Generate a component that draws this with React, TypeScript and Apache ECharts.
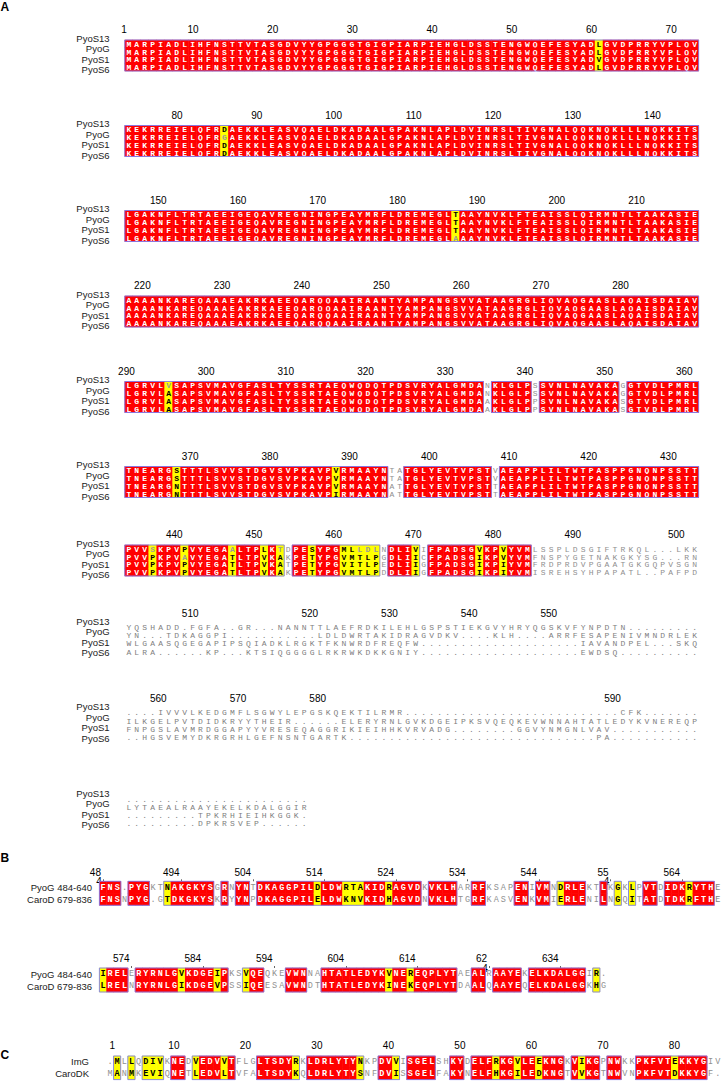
import React, { useEffect, useRef } from "react";
import * as echarts from "echarts";

// ---------------- data ----------------
const A_NAMES = ["PyoS13", "PyoG", "PyoS1", "PyoS6"];

const A_BLOCK_1 = [
  "MARPIADLIHFNSTTVTASGDVYYGPGGGTGIGPIARPIEHGLDSSTENGWQEFESYADLGVDPRRYVPLQV",
  "MARPIADLIHFNSTTVTASGDVYYGPGGGTGIGPIARPIEHGLDSSTENGWQEFESYADLGVDPRRYVPLQV",
  "MARPIADLIHFNSTTVTASGDVYYGPGGGTGIGPIARPIEHGLDSSTENGWQEFESYADVGVDPRRYVPLQV",
  "MARPIADLIHFNSTTVTASGDVYYGPGGGTGIGPIARPIEHGLDSSTENGWQEFESYADLGVDPRRYVPLQV",
];
const A_BLOCK_2 = [
  "KEKRREIELQFRDAEKKLEASVQAELDKADAALGPAKNLAPLDVINRSLTIVGNALQQKNQKLLLNQKKITS",
  "KEKRREIELQFRGAEKKLEASVQAELDKADAALGPAKNLAPLDVINRSLTIVGNALQQKNQKLLLNQKKITS",
  "KEKRREIELQFRDAEKKLEASVQAELDKADAALGPAKNLAPLDVINRSLTIVGNALQQKNQKLLLNQKKITS",
  "KEKRREIELQFRDAEKKLEASVQAELDKADAALGPAKNLAPLDVINRSLTIVGNALQQKNQKLLLNQKKITS",
];
const A_BLOCK_3 = [
  "LGAKNFLTRTAEEIGEQAVREGNINGPEAYMRFLDREMEGLTAAYNVKLFTEAISSLQIRMNTLTAAKASIE",
  "LGAKNFLTRTAEEIGEQAVREGNINGPEAYMRFLDREMEGLTAAYNVKLFTEAISSLQIRMNTLTAAKASIE",
  "LGAKNFLTRTAEEIGEQAVREGNINGPEAYMRFLDREMEGLTAAYNVKLFTEAISSLQIRMNTLTAAKASIE",
  "LGAKNFLTRTAEEIGEQAVREGNINGPEAYMRFLDREMEGLAAAYNVKLFTEAISSLQIRMNTLTAAKASIE",
];
const A_BLOCK_4 = [
  "AAAANKAREQAAAEAKRKAEEQARQQAAIRAANTYAMPANGSVVATAAGRGLIQVAQGAASLAQAISDAIAV",
  "AAAANKAREQAAAEAKRKAEEQARQQAAIRAANTYAMPANGSVVATAAGRGLIQVAQGAASLAQAISDAIAV",
  "AAAANKAREQAAAEAKRKAEEQARQQAAIRAANTYAMPANGSVVATAAGRGLIQVAQGAASLAQAISDAIAV",
  "AAAANKAREQAAAEAKRKAEEQARQQAAIRAANTYAMPANGSVVATAAGRGLIQVAQGAASLAQAISDAIAV",
];
const A_BLOCK_5 = [
  "LGRVLVSAPSVMAVGFASLTYSSRTAEQWQDQTPDSVRYALGMDANKLGLPSSVNLNAVAKAGGTVDLPMRL",
  "LGRVLASAPSVMAVGFASLTYSSRTAEQWQDQTPDSVRYALGMDANKLGLPSSVNLNAVAKAGGTVDLPMRL",
  "LGRVLASAPSVMAVGFASLTYSSRTAEQWQDQTPDSVRYALGMDAAKLGLPPSVNLNAVAKASGTVDLPMRL",
  "LGRVLASAPSVMAVGFASLTYSSRTAEQWQDQTPDSVRYALGMDAAKLGLPPSVNLNAVAKASGTVDLPMRL",
];
const A_BLOCK_6 = [
  "TNEARGSTTTLSVVSTDGVSVPKAVPVRMAAYNTATGLYEVTVPSTVAEAPPLILTWTPASPPGNQNPSSTT",
  "TNEARGSTTTLSVVSTDGVSVPKAVPVRMAAYNTATGLYEVTVPSTVAEAPPLILTWTPASPPGNQNPSSTT",
  "TNEARGNTTTLSVVSTDGVSVPKAVPVRMAAYNATTGLYEVTVPSTTAEAPPLILTWTPASPPGNQNPSSTT",
  "TNEARGNTTTLSVVSTDGVSVPKAVPIRMAAYNATTGLYEVTVPSTTAEAPPLILTWTPASPPGNQNPSSTT",
];
const A_BLOCK_7 = [
  "PVVSKPVPVYEGAALTPLKTDPESYPGMLLDLNDLIVIFPADSGVKPVYVMLSSPLDSGIFTRKQL...LKK",
  "PVVPKPVAVYEGATLTPVKAKPETYPGVMTLPGDLIICFPADSGIKPVYVMFNSPYGETNAKGKYSG...RN",
  "PVVPKPVPVYEGATLTPVKATPETYPGVITLPEDLIIGFPADSGIKPIYVMFRDPRDVPGAATGKGQPVSGN",
  "PVVPKPVPVYEGATLTPVKAKPETYPGVMTLPDDLIIGFPADSGIKPIYVMISREHSYHPAPATL..PAFPD",
];
const A_BLOCK_8 = [
  "YQSHADD.FGFA..GR...NANNTTLAEFRDKILEHLGSPSTIEKGVYHRYQGSKVFYNPDTN.........",
  "YN...TDKAGGPI...........LDLDWRTAKIDRAGVDKV....KLH....ARRFESAPENIVMNDRLEK",
  "WLGAASQGEGAPIPSQIADKLRGKTFKNWRDFREQFW....................IAVANDPEL...SKQ",
  "ALRA......KP...KTSIQGGGGLRKRWKDKKGNIY....................EWDSQ..........",
];
const A_BLOCK_9 = [
  "....IVVVLKEDGMFLSGWYLEPGSKQEKTILRMR...........................CFK.......",
  "ILKGELPVTDIDKRYYTHEIR......ELERYRNLGVKDGEIPKSVQEQKEVWNNAHTATLEDYKVNEREQP",
  "FNPGSLAVMRDGGAPYYVRESEQAGGRIKIEIHHKVRVADG........GGVYNMGNLVAV...........",
  "..HGSVEMYDKRGRHLGEFNSNTGARTK...............................PA...........",
];
const A_BLOCK_10 = [
  ".......................",
  "LYTAEALRAAYEKELKDALGGIR",
  ".........TPKRHIEIHKGGK.",
  ".........DPKRSVEP......",
];
const A_BLOCKS = [A_BLOCK_1, A_BLOCK_2, A_BLOCK_3, A_BLOCK_4, A_BLOCK_5, A_BLOCK_6, A_BLOCK_7, A_BLOCK_8, A_BLOCK_9, A_BLOCK_10];

// column classes (run-length): R identical (red), Y similar (yellow), W unframed, T plain text
const A_MASKS = [
  "59R1Y12R",
  "12R1Y59R",
  "41R1Y30R",
  "72R",
  "5R1Y39R1W5R1W10R1W9R",
  "6R1Y19R1Y6R2W11R1W25R",
  "3R1Y3R1Y5R1Y3R1Y1R1Y1W2R1Y3R5Y1W3R1Y1W6R1Y2R1Y3R21W",
  "72T",
  "72T",
  "23T",
];
const A_TICKS = [
  [1, 10, 20, 30, 40, 50, 60, 70],
  [80, 90, 100, 110, 120, 130, 140],
  [150, 160, 170, 180, 190, 200, 210],
  [220, 230, 240, 250, 260, 270, 280],
  [290, 300, 310, 320, 330, 340, 350, 360],
  [370, 380, 390, 400, 410, 420, 430],
  [440, 450, 460, 470, 480, 490, 500],
  [510, 520, 530, 540, 550],
  [560, 570, 580, 590],
  [],
];

const B_NAMES = ["PyoG 484-640", "CaroD 679-836"];
const B_BLOCK_1 = [
  "FNS.PYGKTNAKGKYSGRNYNTDKAGGPILDLDWRTAKIDRAGVDKVKLHARRFKSAPENIVMNDRLEKTLKGKLPVTDIDKRYTHE",
  "FNSNPYG.GTDKGKYSKRYYNPDKAGGPILELDWKNVKIDHAGVDNVKLHTGRFKASVENKVMIERLENILNGQITATDTDKRFTHE",
];
const B_BLOCK_2 = [
  "IRELERYRNLGVKDGEIPKSVQEQKEVWNNAHTATLEDYKVNEREQPLYTAEALRAAYEKELKDALGGIR.",
  "LRELNRYRNLGIKDGEVPSSIQEESAVWNDTHTATLEDYKINEKEQPLYTDAALQAAYEQELKDALGGKHG",
];
const B_MASKS = [
  "3R1W3R2W1Y6R1W1R1W2R1W8R1Y3R3Y3R1Y4R1W4R2W2R4W2R1W2R1W1Y3R2W1R1W1Y1W1Y1W2R1W3R1Y3R",
  "1Y3R1W6R1Y4R1Y1R2W1Y2R3W3R2W9R1Y2R1Y6R2W2R1W4R1W8R1W1Y1W",
];
const B_TICKS = [
  [484, 494, 504, 514, 524, 534, 544, 554, 564],
  [574, 584, 594, 604, 614, 624, 634],
];
const B_START = 484;
const B_TICK_TEXT: Record<number, string> = { 484: "48", 554: "55", 624: "62" };
const B_STRAY_DIGIT = [484, 554, 624];

const C_NAMES = ["ImG", "CaroDK"];
const C_BLOCK = [
  ".MLLQDIVKNEDVEDVVTFLGLTSDYRKLDRLYTYNKPDVVISGELSHKYDELFRKGVLEEKNGKVIKGPNWKKPKFVTEKKYGIV",
  "MANMKEVIQNETLEDVLTVFALTSDYKQLDRLYTYSNFDVISSGELFAKYNELFHKGILEDKNGTVVKGTNWVNPKFVTDKKYGF.",
];
const C_MASK = "1W1Y1W1Y1W3Y1W2R1W1Y3R1Y1R3W5R1Y1W7R1Y2W2R1Y1W4R2W2R1W3R1Y2R1Y2R1Y3R1W1R1Y2R1W2R2W5R1Y4R2W";
const C_TICKS = [1, 10, 20, 30, 40, 50, 60, 70, 80];
const C_START = 1;

// ---------------- styling / layout ----------------
const RED = "#ff0000";
const YELLOW = "#ffff00";
const FRAME = "#7d7df0";
const SEQ_FONT = '"Liberation Mono", "DejaVu Sans Mono", monospace';
const LABEL_FONT = '"Liberation Sans", Arial, sans-serif';
const SIM_GROUPS = ["ILMV", "FYW", "KRH", "DE", "NQ", "ST", "AG"];

function expand(rle: string): string {
  let out = "";
  const re = /(\d+)([RYWT])/g;
  let m: RegExpExecArray | null;
  while ((m = re.exec(rle))) out += m[2].repeat(parseInt(m[1], 10));
  return out;
}
function similar(a: string, b: string) {
  if (a === b) return true;
  return SIM_GROUPS.some((g) => g.includes(a) && g.includes(b));
}
function residues(row: string) {
  let n = 0;
  for (const ch of row) if (/[A-Z]/.test(ch)) n++;
  return n;
}

type Lay = {
  left: number; top: number; pitch: number; rowH: number; fontSize: number;
  labelRight: number; spreadLabels: boolean; numMargin: number; tickDots: boolean;
};

function buildOption() {
  const grid: any[] = [];
  const xAxis: any[] = [];
  const yAxis: any[] = [];
  const series: any[] = [];
  const elements: any[] = [];

  const addBlock = (
    rows: string[], names: string[], maskRle: string, ticks: number[], start: number,
    lay: Lay, tickText: Record<number, string> = {}, stray: number[] = []
  ) => {
    const gi = grid.length;
    const ncols = Math.max(...rows.map((r) => r.length));
    const mask = expand(maskRle);
    grid.push({
      left: lay.left, top: lay.top, width: ncols * lay.pitch, height: rows.length * lay.rowH,
      containLabel: false, outerBoundsMode: "none",
    });
    const tickCols: [number, number][] = [];
    let n = start - 1;
    for (let c = 0; c < rows[0].length; c++) {
      if (/[A-Z]/.test(rows[0][c])) {
        n++;
        if (ticks.includes(n)) tickCols.push([c, n]);
      }
    }
    const vals = tickCols.map((t) => t[0] + 0.5);
    const labelMap = new Map<string, string>();
    tickCols.forEach((t) => labelMap.set((t[0] + 0.5).toFixed(2), tickText[t[1]] ?? String(t[1])));
    const xi = xAxis.length;
    xAxis.push({
      gridIndex: gi, type: "value", position: "top", min: 0, max: ncols,
      axisLine: { show: false }, splitLine: { show: false },
      axisTick: vals.length && lay.tickDots
        ? { show: true, customValues: vals, length: 2, lineStyle: { color: "#666", width: 1 } }
        : { show: false },
      axisLabel: vals.length
        ? {
            show: true, customValues: vals, margin: lay.numMargin, align: "right", padding: [0, 2, 0, 0],
            color: "#000", fontSize: 10, fontFamily: LABEL_FONT,
            formatter: (v: number) => labelMap.get(v.toFixed(2)) ?? "",
          }
        : { show: false },
    });
    const strayVals = tickCols.filter((t) => stray.includes(t[1])).map((t) => t[0] + 0.5);
    if (strayVals.length) {
      xAxis.push({
        gridIndex: gi, type: "value", position: "top", min: 0, max: ncols,
        axisLine: { show: false }, splitLine: { show: false }, axisTick: { show: false },
        axisLabel: {
          show: true, customValues: strayVals, margin: -5, align: "center", padding: [0, 8, 0, 0],
          color: "#000", fontSize: 10, fontFamily: LABEL_FONT, formatter: () => "4",
        },
      });
    }
    const yi = yAxis.length;
    yAxis.push({ gridIndex: gi, type: "category", data: names, inverse: true, show: false });

    const cells: { ch: string; bg: string | null; fill: string; font: string }[] = [];
    const data: number[][] = [];
    for (let c = 0; c < ncols; c++) {
      const col = rows.map((r) => r[c] ?? " ");
      const cls = mask[c] ?? "T";
      const counts: Record<string, number> = {};
      col.forEach((ch) => (counts[ch] = (counts[ch] || 0) + 1));
      let maj = col[0];
      let mc = 0;
      for (const k in counts) if (counts[k] > mc) { mc = counts[k]; maj = k; }
      col.forEach((ch, r) => {
        if (ch === " ") return;
        let bg: string | null = null;
        let fill = cls === "T" ? "#7e7e7e" : "#8f8f8f";
        let weight = "normal";
        if (cls === "R") { bg = RED; fill = "#ffffff"; weight = "bold"; }
        else if (cls === "Y") {
          bg = YELLOW; weight = "bold";
          fill = rows.length > 2 && mc >= 3 && !similar(ch, maj) ? "#9a9a9a" : "#000000";
        }
        cells.push({ ch, bg, fill, font: `${weight} ${lay.fontSize}px ${SEQ_FONT}` });
        data.push([c + 0.5, r]);
      });
    }
    series.push({
      type: "custom", xAxisIndex: xi, yAxisIndex: yi, data, silent: true, clip: false, z: 2,
      renderItem: (params: any, api: any) => {
        const m = cells[params.dataIndex];
        const p = api.coord([api.value(0), api.value(1)]);
        const s = api.size([1, 1]);
        const w = s[0];
        const h = s[1];
        const children: any[] = [];
        if (m.bg) {
          children.push({
            type: "rect",
            shape: { x: p[0] - w / 2 - 0.25, y: p[1] - h / 2 - 0.25, width: w + 0.5, height: h + 0.5 },
            style: { fill: m.bg },
          });
        }
        children.push({
          type: "text", x: p[0], y: p[1] + 0.4,
          style: { text: m.ch, fill: m.fill, font: m.font, align: "center", verticalAlign: "middle" },
        });
        return { type: "group", children };
      },
    });

    const runs: number[][] = [];
    let rs = -1;
    for (let c = 0; c <= ncols; c++) {
      const framed = c < ncols && (mask[c] === "R" || mask[c] === "Y");
      if (framed && rs < 0) rs = c;
      if (!framed && rs >= 0) { runs.push([rs, 0, c]); rs = -1; }
    }
    if (runs.length) {
      series.push({
        type: "custom", xAxisIndex: xi, yAxisIndex: yi, data: runs, silent: true, clip: false, z: 3,
        renderItem: (params: any, api: any) => {
          const x0 = api.coord([api.value(0), 0])[0];
          const x1 = api.coord([api.value(2), 0])[0];
          const cs = params.coordSys;
          return {
            type: "rect",
            shape: { x: x0, y: cs.y, width: x1 - x0, height: cs.height },
            style: { fill: "none", stroke: FRAME, lineWidth: 0.9 },
          };
        },
      });
    }

    names.forEach((name, i) => {
      const y = lay.spreadLabels ? lay.top - 2 + 10.5 * i : lay.top + lay.rowH * (i + 0.5);
      elements.push({
        type: "text", x: lay.labelRight, y, silent: true,
        style: {
          text: name, fill: "#1a1a1a", font: `9.5px ${LABEL_FONT}`,
          textAlign: "right", textVerticalAlign: "middle", align: "right", verticalAlign: "middle",
        },
      });
    });
  };

  const aTops = [40, 125.5, 210.5, 296, 381.5, 466.5, 545, 623.3, 708.5, 795];
  let aStart = 1;
  A_BLOCKS.forEach((rows, i) => {
    addBlock(rows, A_NAMES, A_MASKS[i], A_TICKS[i], aStart, {
      left: 124.8, top: aTops[i], pitch: 7.97, rowH: i >= 7 ? 8.1 : 7.75, fontSize: 8,
      labelRight: 109.6, spreadLabels: true, numMargin: 5.3, tickDots: false,
    });
    aStart += residues(rows[0]);
  });

  const bTops = [881.3, 968];
  let bStart = B_START;
  [B_BLOCK_1, B_BLOCK_2].forEach((rows, i) => {
    addBlock(rows, B_NAMES, B_MASKS[i], B_TICKS[i], bStart, {
      left: 99.4, top: bTops[i], pitch: 7.15, rowH: 12, fontSize: 8.5,
      labelRight: 92, spreadLabels: false, numMargin: 4.2, tickDots: true,
    }, B_TICK_TEXT, B_STRAY_DIGIT);
    bStart += residues(rows[0]);
  });

  addBlock(C_BLOCK, C_NAMES, C_MASK, C_TICKS, C_START, {
    left: 106.4, top: 1056, pitch: 7.15, rowH: 11.8, fontSize: 8.5,
    labelRight: 89, spreadLabels: false, numMargin: 6, tickDots: false,
  });

  [["A", 7], ["B", 858], ["C", 1055]].forEach(([t, y]) => {
    elements.push({
      type: "text", x: 0.5, y, silent: true,
      style: {
        text: t, fill: "#000", font: `bold 12px ${LABEL_FONT}`,
        textAlign: "left", textVerticalAlign: "middle", align: "left", verticalAlign: "middle",
      },
    });
  });

  return {
    animation: false,
    backgroundColor: "#ffffff",
    grid, xAxis, yAxis, series,
    graphic: { elements },
  };
}

export default function App() {
  const ref = useRef<HTMLDivElement>(null);
  useEffect(() => {
    if (!ref.current) return;
    const chart = echarts.init(ref.current, undefined, { renderer: "svg" });
    chart.setOption(buildOption() as any);
    return () => chart.dispose();
  }, []);
  return (
    <div
      ref={ref}
      style={{ position: "absolute", left: 0, top: 0, width: 725, height: 1086, background: "#fff" }}
    />
  );
}
